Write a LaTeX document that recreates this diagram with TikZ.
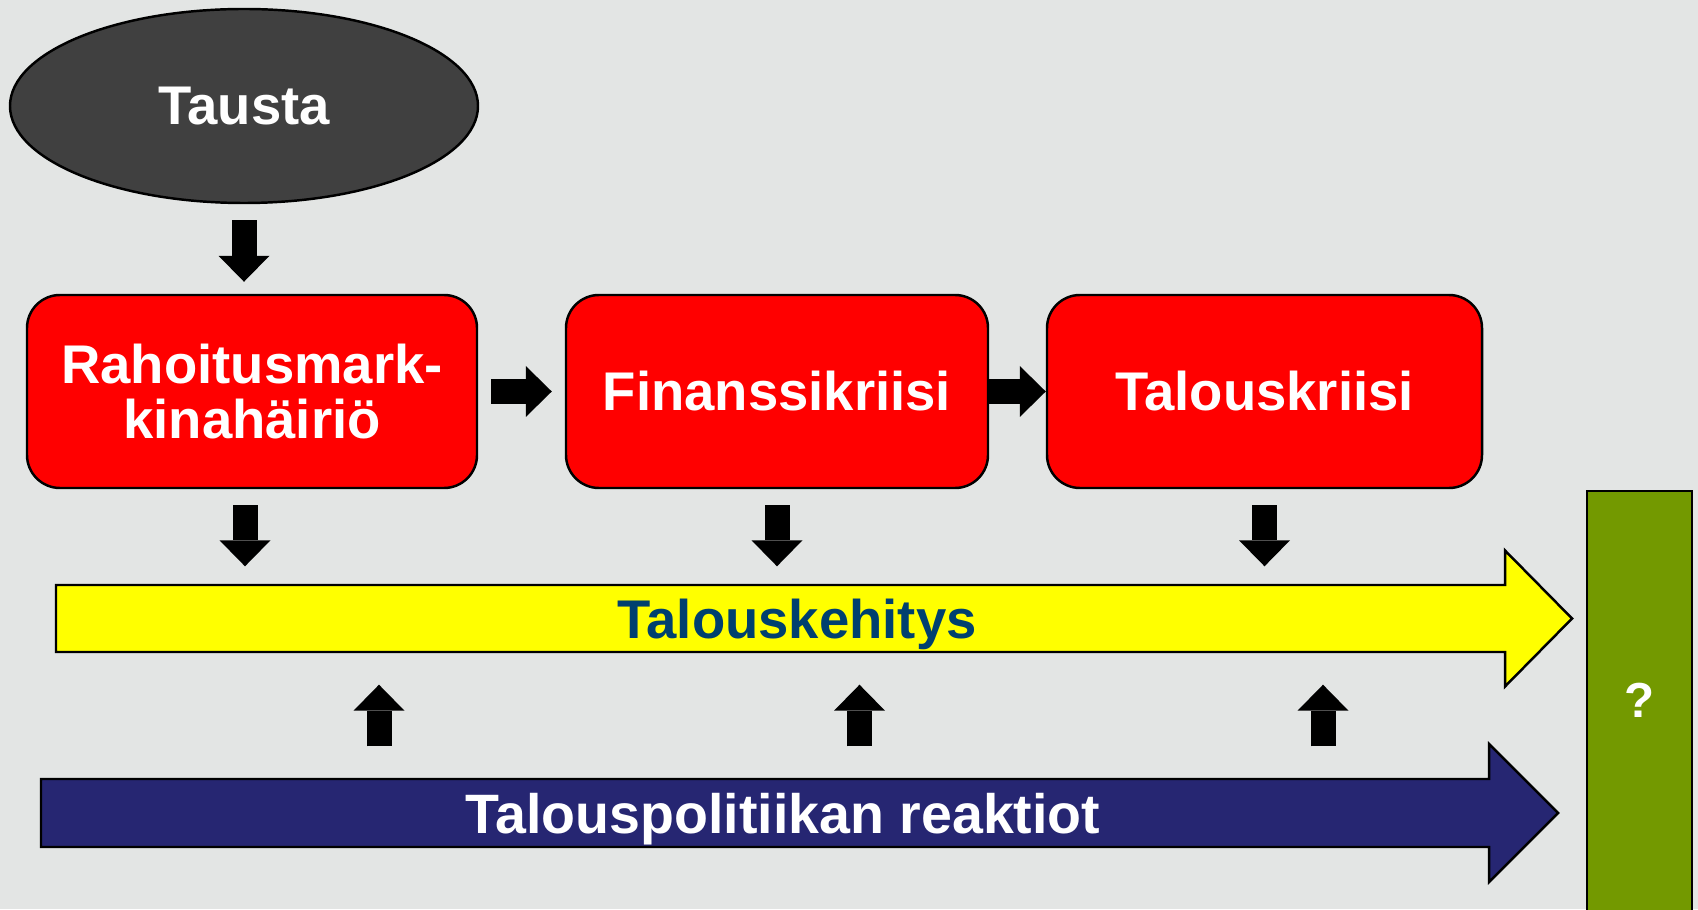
\documentclass[tikz,border=0pt]{standalone}
\usepackage{fontspec}
\setmainfont{Liberation Sans}
\usepackage{xcolor}
\usepackage{tikz}
\usetikzlibrary{arrows.meta,positioning,calc,shapes.geometric}

\definecolor{tausta}{RGB}{227,229,228}
\definecolor{harmaa}{RGB}{64,64,64}
\definecolor{keltainen}{RGB}{255,255,0}
\definecolor{sininen}{RGB}{38,38,114}
\definecolor{tekstisininen}{RGB}{0,64,111}
\definecolor{vihrea}{RGB}{115,153,0}

\begin{document}
\begin{tikzpicture}[every node/.style={font=\fontsize{15.5}{15.4}\selectfont\bfseries,text=white},
  laatikko/.style={draw=black,line width=.7pt,fill=red,rounded corners=.33cm,minimum height=1.93cm,align=center,inner sep=0pt},
  nuoli/.style={line width=.25cm,-{Triangle[width=.51cm,length=.26cm,line width=0pt]}}]
\useasboundingbox[fill=tausta] (0,0) rectangle (16.98,9.09);
\begin{scope}[shift={(0,0)},scale=1]
\node[ellipse,draw=black,line width=.7pt,fill=harmaa,minimum width=4.68cm,minimum height=1.94cm] (tausta) at (2.44,8.03) {Tausta};
\node[laatikko,minimum width=4.50cm] (rahoitus) at (2.52,5.175) {Rahoitusmark-\\kinahäiriö};
\node[laatikko,minimum width=4.22cm] (finanssi) at (7.77,5.175) {Finanssikriisi};
\node[laatikko,minimum width=4.35cm] (talous) at (12.645,5.175) {Talouskriisi};
\draw[black,line width=.7pt,fill=keltainen] (0.56,3.24)--(15.05,3.24)--(15.05,3.585)--(15.72,2.905)--(15.05,2.225)--(15.05,2.57)--(0.56,2.57)--cycle;
\node[text=tekstisininen,text depth=0pt,minimum height=.67cm,inner sep=0pt] (kehitys) at (7.97,2.905) {Talouskehitys};
\draw[black,line width=.7pt,fill=sininen] (0.41,1.30)--(14.89,1.30)--(14.89,1.65)--(15.58,0.96)--(14.89,0.27)--(14.89,0.62)--(0.41,0.62)--cycle;
\node[font=\fontsize{15.8}{16}\selectfont\bfseries,text depth=0pt,minimum height=.68cm,inner sep=0pt] (reaktiot) at (7.83,0.96) {Talouspolitiikan reaktiot};
\draw[black,line width=.7pt,fill=vihrea] (15.87,-0.05) rectangle (16.92,4.18);
\node[font=\fontsize{14}{15}\selectfont\bfseries] (tulos) at (16.395,2.09) {?};
\draw[nuoli,shorten <=.16cm,shorten >=.12cm] (tausta.south)--(tausta.south |- rahoitus.north);
\draw[nuoli,shorten <=.13cm,shorten >=.13cm] (rahoitus.east)--(finanssi.west);
\draw[nuoli] (finanssi.east)--(talous.west);
\draw[nuoli,shorten <=.16cm,shorten >=.18cm] ([xshift=-.07cm]rahoitus.south)--([xshift=-.07cm]rahoitus.south |- kehitys.north);
\draw[nuoli,shorten <=.16cm,shorten >=.18cm] (finanssi.south)--(finanssi.south |- kehitys.north);
\draw[nuoli,shorten <=.16cm,shorten >=.18cm] (talous.south)--(talous.south |- kehitys.north);
\foreach \x in {3.79,8.595,13.23}
  \draw[nuoli,shorten <=.32cm,shorten >=.32cm] (\x,0 |- reaktiot.north)--(\x,0 |- kehitys.south);
\end{scope}
\end{tikzpicture}
\end{document}
